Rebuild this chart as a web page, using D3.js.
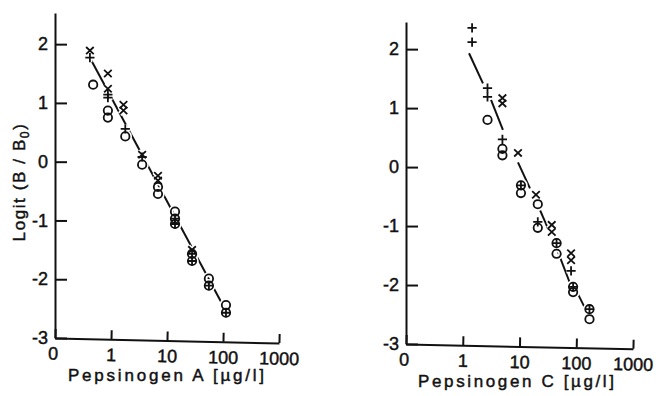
<!DOCTYPE html>
<html>
<head>
<meta charset="utf-8">
<script src="https://cdn.jsdelivr.net/npm/d3@7"></script>
<style>
  body { margin: 0; background: #fff; }
  text { font-family: "Liberation Sans", Arial, sans-serif; fill: #111; stroke: #111; stroke-width: 0.45px; }
</style>
</head>
<body>
<svg id="chart" width="656" height="396"></svg>
<script>
// axis ticks (log scale, origin labelled "0")
const xTicks = [0.1, 1, 10, 100, 1000];
const xTickLabels = ["0", "1", "10", "100", "1000"];
const yTicks = [-3, -2, -1, 0, 1, 2];

// Pepsinogen A  [concentration µg/l, logit]
const leftCross = [[0.42, 1.89], [0.88, 1.50], [0.88, 1.24], [1.67, 0.97], [1.67, 0.87],
  [3.6, 0.12], [6.9, -0.24], [6.9, -0.32], [28, -1.50]];
const leftPlus = [[0.42, 1.77], [0.88, 1.14], [0.88, 1.09], [1.8, 0.56], [3.6, 0.08],
  [13.9, -0.97], [13.9, -1.06], [28, -1.57], [28, -1.69], [56, -2.11], [113, -2.57]];
const leftCircle = [[0.48, 1.31], [0.88, 0.87], [0.88, 0.75], [1.8, 0.43], [3.6, -0.05],
  [6.9, -0.43], [6.9, -0.55], [13.9, -0.85], [13.9, -0.97], [13.9, -1.06], [28, -1.57],
  [28, -1.69], [56, -1.99], [56, -2.11], [113, -2.44], [113, -2.57]];
const leftLine = [[[0.42, 1.77], [113, -2.54]]];

// Pepsinogen C
const rightPlus = [[1.46, 2.36], [1.46, 2.12], [2.73, 1.34], [2.73, 1.19], [5.0, 0.47],
  [10.6, -0.31], [21, -0.93], [45, -1.29], [81, -1.76], [88, -2.03], [171, -2.41]];
const rightCross = [[5.0, 1.17], [5.0, 1.08], [9.4, 0.24], [19.5, -0.47], [37, -0.98],
  [37, -1.10], [81, -1.46], [81, -1.58]];
const rightCircle = [[2.73, 0.80], [5.0, 0.31], [5.0, 0.20], [10.6, -0.31], [10.6, -0.44],
  [21, -0.63], [21, -1.03], [45, -1.29], [45, -1.47], [88, -2.03], [88, -2.12],
  [171, -2.41], [171, -2.58]];
const rightLine = [
  [[1.29, 1.93], [2.27, 1.42]],
  [[3.15, 1.14], [5.1, 0.63]],
  [[9.4, 0.08], [15.3, -0.36]],
  [[23, -0.73], [34.5, -1.12]],
  [[47.7, -1.44], [77.5, -1.97]],
  [[103, -2.12], [155, -2.46]]
];

const svg = d3.select('#chart');

const shapes = {
  cross: 'M-3.8,-3.6L3.8,3.6M-3.8,3.6L3.8,-3.6',
  plus: 'M-4.6,0H4.6M0,-4.6V4.6',
  circle: d3.symbol().type(d3.symbolCircle).size(Math.PI * 4.2 * 4.2)()
};

function drawPanel(p) {
  const g = svg.append('g');
  const x = d3.scaleLog().domain([0.1, 1000]).range([p.x0, p.x1]);
  const y = d3.scaleLinear().domain([-3, p.yTop]).range([p.y0, p.y1]);

  // fitted line
  const line = d3.line().x(d => x(d[0])).y(d => y(d[1]));
  g.selectAll('.fit').data(p.line).enter().append('path')
    .attr('class', 'fit')
    .attr('d', line)
    .attr('fill', 'none')
    .attr('stroke', '#111')
    .attr('stroke-width', 2);

  const sets = [['circle', p.circle], ['plus', p.plus], ['cross', p.cross]];

  // white halos to break the line near markers
  sets.forEach(([type, pts]) => {
    g.selectAll(null).data(pts).enter().append('path')
      .attr('d', shapes[type])
      .attr('transform', d => `translate(${x(d[0])},${y(d[1])})`)
      .attr('fill', 'none')
      .attr('stroke', '#fff')
      .attr('stroke-width', 5);
  });
  sets.forEach(([type, pts]) => {
    g.selectAll(null).data(pts).enter().append('path')
      .attr('d', shapes[type])
      .attr('transform', d => `translate(${x(d[0])},${y(d[1])})`)
      .attr('fill', 'none')
      .attr('stroke', '#111')
      .attr('stroke-width', 1.8);
  });

  // y axis, ticks pointing inward
  const ya = g.append('g')
    .attr('transform', `translate(${p.x0},0)`)
    .call(d3.axisLeft(y).tickValues(yTicks).tickFormat(d => String(d))
      .tickSizeInner(-12).tickSizeOuter(0).tickPadding(7));

  // x axis, slightly crooked as in the scan
  const xa = g.append('g')
    .attr('transform', `translate(0,${p.y0}) rotate(${p.tilt},${p.x0},0)`)
    .call(d3.axisBottom(x).tickValues(xTicks)
      .tickFormat((d, i) => xTickLabels[i])
      .tickSizeInner(-9).tickSizeOuter(0).tickPadding(9));

  [ya, xa].forEach(a => {
    a.select('.domain').attr('stroke', '#111').attr('stroke-width', 2);
    a.selectAll('.tick line').attr('stroke', '#111').attr('stroke-width', 2);
    a.selectAll('.tick text').attr('font-size', 18).attr('fill', '#111')
      .style('font-family', '"Liberation Sans", Arial, sans-serif');
  });
  xa.select('.tick text').attr('dx', -2);

  g.append('text')
    .attr('x', p.titleX - 98)
    .attr('y', p.titleY)
    .attr('font-size', 17)
    .attr('textLength', 196)
    .attr('lengthAdjust', 'spacing')
    .text(p.title);
}

drawPanel({
  x0: 55, x1: 279, y0: 338, y1: 13, yTop: 2.53, tilt: 1.28,
  cross: leftCross, plus: leftPlus, circle: leftCircle, line: leftLine,
  title: 'Pepsinogen A [\u00b5g/l]', titleX: 166, titleY: 381
});
drawPanel({
  x0: 406, x1: 633, y0: 344, y1: 22, yTop: 2.46, tilt: 1.2,
  cross: rightCross, plus: rightPlus, circle: rightCircle, line: rightLine,
  title: 'Pepsinogen C [\u00b5g/l]', titleX: 516, titleY: 387
});

// y axis title
const yt = svg.append('text')
  .attr('transform', 'translate(25,182) rotate(-90)')
  .attr('text-anchor', 'middle')
  .attr('font-size', 17)
  .attr('letter-spacing', 1.6);
yt.append('tspan').text('Logit (B / B');
yt.append('tspan').attr('font-size', 12).attr('dy', 4).text('0');
yt.append('tspan').attr('dy', -4).text(')');
</script>
</body>
</html>
